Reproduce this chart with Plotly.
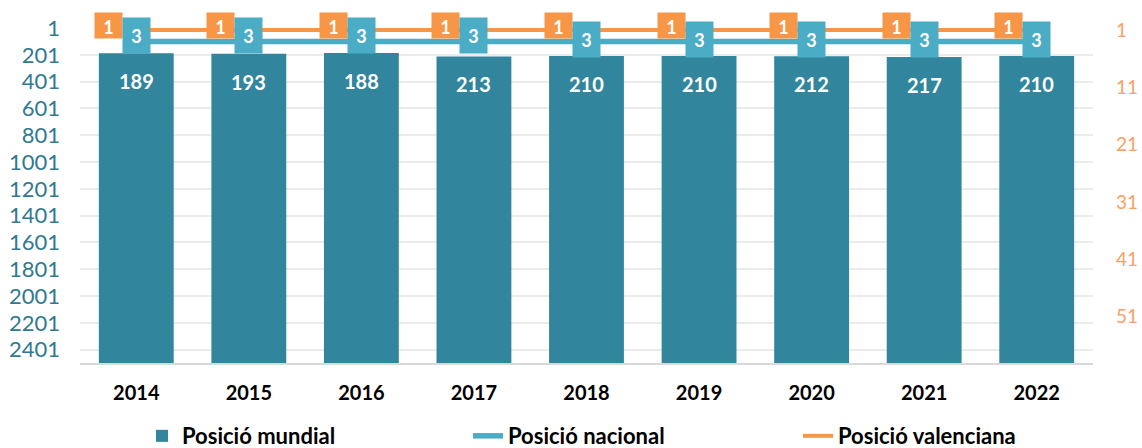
import plotly.graph_objects as go

# ---- data ----
years = ["2014", "2015", "2016", "2017", "2018", "2019", "2020", "2021", "2022"]
posicio_mundial = [189, 193, 188, 213, 210, 210, 212, 217, 210]
posicio_nacional = [3, 3, 3, 3, 3, 3, 3, 3, 3]
posicio_valenciana = [1, 1, 1, 1, 1, 1, 1, 1, 1]
left_ticks = list(range(1, 2402, 200))
right_ticks = [1, 11, 21, 31, 41, 51]

# ---- style ----
FONT = "Lato"
BAR = "#31859C"
TEAL = "#4BACC6"
ORANGE = "#F79646"
LEFT_MAX = 2501
teal_label_shift = [6, 6, 6, 6, 2, 2, 2, 2, 2]

fig = go.Figure()

fig.add_trace(go.Bar(
    x=years, y=[r - LEFT_MAX for r in posicio_mundial], base=LEFT_MAX,
    marker=dict(color=BAR, line=dict(width=0)), width=0.665,
    name="Posició mundial", legend="legend", yaxis="y",
    hoverinfo="skip",
))
fig.add_trace(go.Scatter(
    x=years, y=posicio_nacional, mode="lines", yaxis="y2",
    line=dict(color=TEAL, width=5.5), name="Posició nacional", legend="legend2",
    hoverinfo="skip",
))
fig.add_trace(go.Scatter(
    x=years, y=posicio_valenciana, mode="lines", yaxis="y2",
    line=dict(color=ORANGE, width=4), name="Posició valenciana", legend="legend3",
    hoverinfo="skip",
))

ann = []
for i, yr in enumerate(years):
    ann.append(dict(x=i, y=posicio_mundial[i], yref="y", xref="x", showarrow=False,
                    text=f"<b>{posicio_mundial[i]}</b>", yshift=-28,
                    font=dict(family=FONT, size=20, color="white")))
    ann.append(dict(x=i, y=posicio_valenciana[i], yref="y2", xref="x", showarrow=False,
                    text=f"<b>{posicio_valenciana[i]}</b>", xshift=-28, yshift=5,
                    bgcolor=ORANGE, width=27, height=25, borderpad=0, valign="bottom",
                    font=dict(family=FONT, size=18, color="white")))
    ann.append(dict(x=i, y=posicio_nacional[i], yref="y2", xref="x", showarrow=False,
                    text=f"<b>{posicio_nacional[i]}</b>", yshift=teal_label_shift[i],
                    bgcolor=TEAL, width=27, height=35, borderpad=0,
                    font=dict(family=FONT, size=18, color="white")))

leg_common = dict(orientation="h", yanchor="middle", y=-0.218, xanchor="left",
                  bgcolor="rgba(0,0,0,0)",
                  font=dict(family=FONT, size=22, color="black"))

fig.update_layout(
    width=1142, height=448,
    margin=dict(l=80, r=49, t=28, b=85, autoexpand=False),
    paper_bgcolor="white", plot_bgcolor="white",
    font=dict(family=FONT),
    showlegend=True,
    barmode="overlay",
    xaxis=dict(type="category", range=[-0.5, len(years) - 0.5], autorange=False,
               automargin=False,
               showgrid=False, showline=True, linecolor="#D9D9D9",
               linewidth=1.5, ticks="", ticklabelstandoff=11,
               tickfont=dict(family=FONT, size=20, color="black"),
               tickprefix="<b>", ticksuffix="</b>"),
    yaxis=dict(range=[LEFT_MAX, 1], tickvals=left_ticks, ticktext=[str(t) for t in left_ticks],
               automargin=False,
               showgrid=True, gridcolor="#EBEBEB", gridwidth=1.5, zeroline=False,
               ticks="", ticklabelstandoff=19,
               tickfont=dict(family=FONT, size=22, color="#2F7A8F")),
    yaxis2=dict(range=[59.1, 0.65], tickvals=right_ticks, overlaying="y", side="right",
                automargin=False,
                showgrid=False, zeroline=False, ticks="", ticklabelstandoff=22,
                tickfont=dict(family=FONT, size=19, color="#F9A066")),
    legend=dict(x=(142 - 80) / 1013, **leg_common),
    legend2=dict(x=(468 - 80) / 1013, **leg_common),
    legend3=dict(x=(798 - 80) / 1013, **leg_common),
    annotations=ann,
)

for tr in fig.data:
    tr.name = f"<b>{tr.name}</b>"

fig.write_html("out.html",
               config={"displayModeBar": False},
               post_script="document.body.style.margin='0';document.body.style.overflow='hidden';")
